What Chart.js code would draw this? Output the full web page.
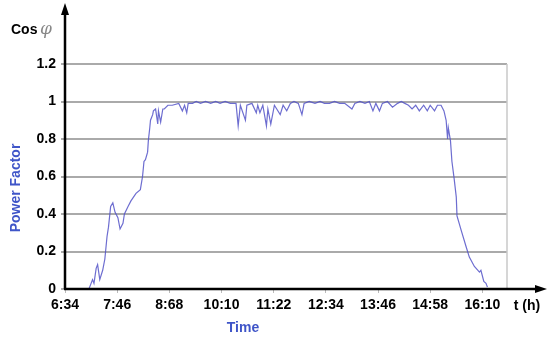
<!DOCTYPE html>
<html>
<head>
<meta charset="utf-8">
<script src="https://cdn.jsdelivr.net/npm/chart.js@4"></script>
<style>
  html, body { margin: 0; padding: 0; background: #fff; }
  #wrap { width: 550px; height: 342px; position: relative; }
</style>
</head>
<body>
<div id="wrap"><canvas id="myChart" width="550" height="342"></canvas></div>
<script>
// x tick labels, one every 72 minutes starting at 6:34
const timeLabels = ['6:34', '7:46', '8:68', '10:10', '11:22', '12:34', '13:46', '14:58', '16:10'];
const tickStep = 72;
// minutes after 6:34
const minutes = [33, 36, 38, 40, 43, 45, 48, 52, 55, 58, 60, 63, 66, 69, 73, 76, 80, 82, 87, 91, 98, 104,
  107, 109, 111, 114, 115, 117, 118, 121, 122, 125, 128, 129, 132, 135, 137, 142, 148, 157, 162, 165, 168,
  170, 176, 181, 187, 194, 201, 208, 214, 221, 228, 236, 239, 242, 249, 251, 258, 264, 266, 269, 273, 278,
  280, 284, 289, 297, 301, 306, 311, 316, 322, 327, 330, 337, 345, 352, 358, 365, 372, 379, 386, 396, 400,
  407, 414, 420, 425, 429, 434, 438, 445, 452, 459, 464, 469, 474, 479, 484, 489, 495, 500, 504, 510, 514,
  519, 523, 526, 528, 529, 532, 534, 537, 540, 541, 547, 554, 558, 565, 572, 574, 578, 581, 583];
// power factor (cos phi)
const powerFactor = [0.00, 0.03, 0.05, 0.03, 0.11, 0.13, 0.05, 0.10, 0.16, 0.28, 0.33, 0.44, 0.46, 0.41,
  0.38, 0.32, 0.35, 0.40, 0.44, 0.47, 0.51, 0.53, 0.60, 0.68, 0.69, 0.73, 0.79, 0.86, 0.90, 0.93, 0.95,
  0.96, 0.88, 0.95, 0.89, 0.96, 0.96, 0.98, 0.98, 0.99, 0.95, 0.98, 0.94, 0.99, 0.99, 1.00, 0.99, 1.00,
  0.99, 1.00, 0.99, 1.00, 0.99, 0.99, 0.87, 0.98, 0.90, 0.98, 0.99, 0.94, 0.98, 0.94, 0.98, 0.87, 0.96,
  0.88, 0.98, 0.93, 0.98, 0.95, 0.99, 1.00, 0.99, 0.93, 0.99, 1.00, 0.99, 1.00, 0.99, 0.99, 1.00, 0.99,
  0.99, 0.96, 0.99, 1.00, 0.99, 1.00, 0.95, 0.99, 0.95, 0.99, 1.00, 0.97, 0.99, 1.00, 0.99, 0.98, 0.96,
  0.98, 0.95, 0.98, 0.95, 0.98, 0.95, 0.98, 0.98, 0.95, 0.90, 0.80, 0.86, 0.79, 0.68, 0.59, 0.49, 0.39,
  0.31, 0.22, 0.17, 0.12, 0.09, 0.10, 0.04, 0.03, 0.01];

const points = minutes.map((m, i) => ({ x: m, y: powerFactor[i] }));

const blue = '#3f55c8';

const axesPlugin = {
  id: 'axesArrows',
  afterDraw(chart) {
    const ctx = chart.ctx;
    const a = chart.chartArea;
    ctx.save();
    // right border
    ctx.strokeStyle = '#c8c8c8';
    ctx.lineWidth = 1.5;
    ctx.beginPath();
    ctx.moveTo(a.right, a.top);
    ctx.lineTo(a.right, a.bottom);
    ctx.stroke();
    // axes
    ctx.strokeStyle = '#000';
    ctx.fillStyle = '#000';
    ctx.lineWidth = 2.5;
    ctx.beginPath();
    ctx.moveTo(a.left, a.bottom);
    ctx.lineTo(a.left, 12);
    ctx.moveTo(a.left - 1, a.bottom);
    ctx.lineTo(538, a.bottom);
    ctx.stroke();
    ctx.beginPath();
    ctx.moveTo(a.left, 3);
    ctx.lineTo(a.left - 4, 15);
    ctx.lineTo(a.left + 4, 15);
    ctx.closePath();
    ctx.fill();
    ctx.beginPath();
    ctx.moveTo(547, a.bottom);
    ctx.lineTo(535, a.bottom - 4);
    ctx.lineTo(535, a.bottom + 4);
    ctx.closePath();
    ctx.fill();
    // labels
    ctx.textBaseline = 'middle';
    ctx.font = 'bold 14px Arial, "Liberation Sans"';
    ctx.textAlign = 'left';
    ctx.fillText('Cos', 11, 30);
    ctx.fillStyle = '#888';
    ctx.font = 'italic 17px "DejaVu Serif", serif';
    ctx.fillText('φ', 40, 30);
    ctx.fillStyle = '#000';
    ctx.font = 'bold 14px Arial, "Liberation Sans"';
    ctx.textAlign = 'center';
    ctx.fillText('t (h)', 527, 306);
    ctx.fillStyle = blue;
    ctx.font = 'bold 14px Arial, "Liberation Sans"';
    ctx.fillText('Time', 243, 328);
    ctx.translate(16, 188);
    ctx.rotate(-Math.PI / 2);
    ctx.fillText('Power Factor', 0, 0);
    ctx.restore();
  }
};

const ctx = document.getElementById('myChart').getContext('2d');
const myChart = new Chart(ctx, {
  type: 'line',
  data: {
    datasets: [{
      label: 'Power Factor',
      data: points,
      borderColor: 'rgba(84, 84, 200, 0.85)',
      borderWidth: 1.2,
      pointRadius: 0,
      tension: 0,
      fill: false
    }]
  },
  options: {
    responsive: false,
    animation: false,
    devicePixelRatio: 1,
    layout: { padding: { left: 0, top: 64, right: 43, bottom: 0 } },
    plugins: { legend: { display: false }, tooltip: { enabled: false } },
    scales: {
      x: {
        type: 'linear',
        min: 0,
        max: 610,
        border: { display: false },
        grid: { drawOnChartArea: false, drawTicks: true, tickLength: 4, color: '#bbb' },
        afterBuildTicks: (s) => {
          s.ticks = timeLabels.map((_, i) => ({ value: i * tickStep }));
        },
        ticks: {
          padding: 4,
          color: '#000',
          font: { family: 'Arial, "Liberation Sans"', size: 14, weight: 'bold' },
          maxRotation: 0,
          autoSkip: false,
          callback: (v) => timeLabels[Math.round(v / tickStep)] ?? ''
        },
        afterFit: (s) => { s.height = 53; }
      },
      y: {
        min: 0,
        max: 1.2,
        border: { display: false },
        grid: { color: '#aaaaaa', lineWidth: 2, tickLength: 4 },
        ticks: {
          stepSize: 0.2,
          padding: 5,
          color: '#000',
          font: { family: 'Arial, "Liberation Sans"', size: 14, weight: 'bold' },
          callback: (v) => String(Math.round(v * 10) / 10)
        },
        afterFit: (s) => { s.width = 65; }
      }
    }
  },
  plugins: [axesPlugin]
});
</script>
</body>
</html>
